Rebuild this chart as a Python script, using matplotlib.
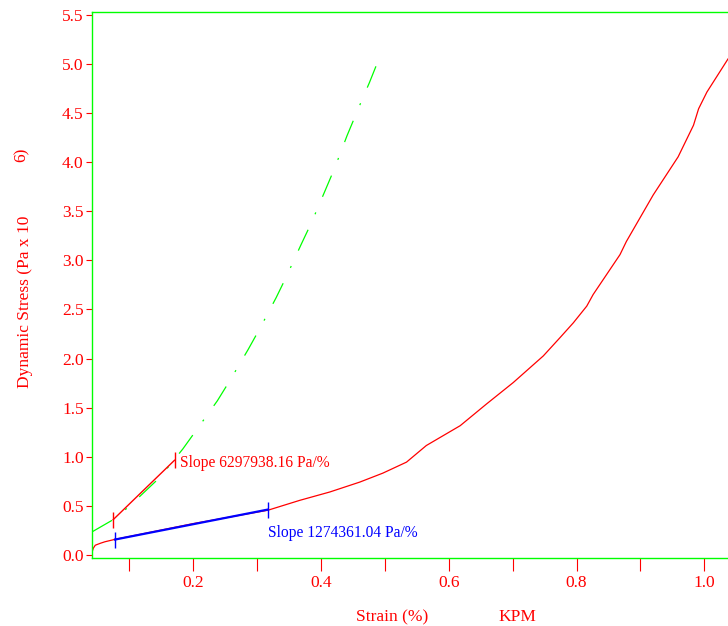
import matplotlib
matplotlib.use('Agg')

import matplotlib.pyplot as plt
from matplotlib.ticker import MultipleLocator, FormatStrFormatter

plt.rcParams['font.family'] = ['Liberation Serif', 'DejaVu Serif']

RED = '#ff0000'
GREEN = '#00ff00'
BLUE = '#0000ff'

# main stress/strain curve (KPM)
strain = [0.042, 0.044, 0.047, 0.055, 0.062, 0.078, 0.12, 0.2, 0.26, 0.317,
          0.367, 0.414, 0.461, 0.497, 0.534, 0.565, 0.618, 0.659, 0.701, 0.748,
          0.774, 0.795, 0.816, 0.826, 0.868, 0.878, 0.920, 0.959, 0.983, 0.991,
          1.004, 1.037]
stress = [0.03, 0.07, 0.10, 0.12, 0.135, 0.16, 0.215, 0.32, 0.39, 0.456,
          0.557, 0.642, 0.743, 0.834, 0.946, 1.115, 1.317, 1.537, 1.756, 2.027,
          2.212, 2.364, 2.534, 2.652, 3.058, 3.192, 3.666, 4.054, 4.375, 4.543,
          4.713, 5.05]

# second curve (dash-dot green)
strain2 = [0.042, 0.075, 0.101, 0.122, 0.148, 0.184, 0.205, 0.238, 0.257, 0.286,
           0.304, 0.330, 0.345, 0.369, 0.385, 0.406, 0.421, 0.441, 0.466, 0.476, 0.492]
stress2 = [0.236, 0.36, 0.50, 0.63, 0.79, 1.08, 1.27, 1.57, 1.77, 2.09,
           2.30, 2.62, 2.82, 3.16, 3.38, 3.70, 3.93, 4.27, 4.66, 4.81, 5.07]

# slope fits: end points
slope1_x = [0.075, 0.171]
slope1_y = [0.36, 0.965]
slope1_label = 'Slope 6297938.16 Pa/%'
slope2_x = [0.078, 0.317]
slope2_y = [0.158, 0.463]
slope2_label = 'Slope 1274361.04 Pa/%'

fig = plt.figure(figsize=(7.28, 6.26), dpi=100)
ax = fig.add_axes([92 / 728, 68 / 626, 636 / 728, 546 / 626])

ax.plot(strain, stress, color=RED, lw=0.9)
# dash pattern in pixels: 23 dash, 17 gap, 2 dot, 17 gap
px = 72 / 100 / 0.9
ax.plot(strain2, stress2, color=GREEN, lw=0.9,
        linestyle=(0, (23 * px, 17 * px, 2 * px, 17 * px)))

ax.plot(slope1_x, slope1_y, color=RED, lw=1.0)
ax.plot(slope1_x, slope1_y, ls='none', marker='|', ms=12, mew=1.0, color=RED)
ax.plot(slope2_x, slope2_y, color=BLUE, lw=1.6)
ax.plot(slope2_x, slope2_y, ls='none', marker='|', ms=12, mew=1.0, color=BLUE)

ax.annotate(slope1_label, (slope1_x[1], slope1_y[1]), xytext=(4, -2),
            textcoords='offset points', color=RED, fontsize=11.2, va='center')
ax.annotate(slope2_label, (slope2_x[1], slope2_y[1]), xytext=(0, -17),
            textcoords='offset points', color=BLUE, fontsize=11.2, va='center')

ax.set_xlim(0.0419, 1.037)
ax.set_ylim(-0.03, 5.528)

for side in ['left', 'bottom', 'top']:
    ax.spines[side].set_color(GREEN)
    ax.spines[side].set_linewidth(1.0)
ax.spines['right'].set_visible(False)

ax.xaxis.set_major_locator(MultipleLocator(0.2))
ax.xaxis.set_minor_locator(MultipleLocator(0.1))
ax.xaxis.set_major_formatter(FormatStrFormatter('%.1f'))
ax.yaxis.set_major_locator(MultipleLocator(0.5))
ax.yaxis.set_major_formatter(FormatStrFormatter('%.1f'))

ax.tick_params(axis='x', which='both', direction='out', length=9.5, width=0.8,
               color=RED, labelcolor=RED, labelsize=12.5, pad=3)
ax.tick_params(axis='y', direction='out', length=4, width=0.8,
               color=RED, labelcolor=RED, labelsize=12.5, pad=2)

fig.text(392 / 728, 1 - 617 / 626, 'Strain (%)', color=RED, fontsize=12.5,
         ha='center', va='center')
fig.text(517 / 728, 1 - 617 / 626, 'KPM', color=RED, fontsize=12.5,
         ha='center', va='center')
fig.text(25 / 728, 1 - 302 / 626, 'Dynamic Stress (Pa x 10', color=RED,
         fontsize=12.5, rotation=90, ha='center', va='center')
fig.text(22 / 728, 1 - 155 / 626, '6)', color=RED, fontsize=12.5,
         rotation=90, ha='center', va='center')

fig.savefig('out.png', dpi=100)
